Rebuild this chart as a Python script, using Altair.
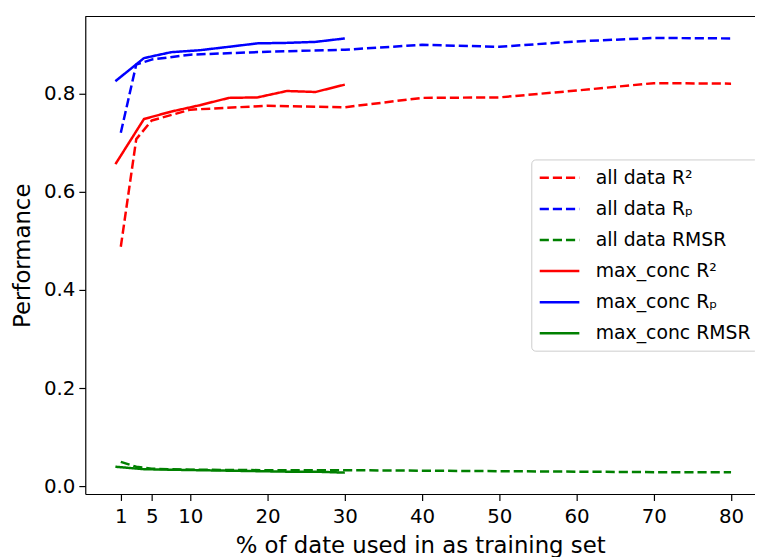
import altair as alt
import pandas as pd

# ---- data ----
x_all = [1, 3, 5, 10, 20, 30, 40, 50, 60, 70, 80]
r2_all = [0.488, 0.707, 0.745, 0.767, 0.775, 0.772, 0.791, 0.792, 0.806, 0.821, 0.820]
rp_all = [0.720, 0.859, 0.869, 0.879, 0.885, 0.889, 0.899, 0.895, 0.906, 0.913, 0.912]
rmsr_all = [0.050, 0.040, 0.036, 0.034, 0.033, 0.033, 0.032, 0.031, 0.030, 0.029, 0.029]

x_max = [0.3, 4.0, 7.5, 11.2, 15.0, 18.7, 22.5, 26.2, 30.0]
r2_max = [0.656, 0.748, 0.763, 0.776, 0.791, 0.792, 0.805, 0.803, 0.818]
rp_max = [0.825, 0.872, 0.884, 0.888, 0.895, 0.902, 0.903, 0.905, 0.912]
rmsr_max = [0.040, 0.035, 0.034, 0.033, 0.032, 0.031, 0.030, 0.030, 0.028]

series_names = ["all data R²", "all data Rₚ", "all data RMSR",
                "max_conc R²", "max_conc Rₚ", "max_conc RMSR"]
series_colors = ["#ff0000", "#0000ff", "#008000", "#ff0000", "#0000ff", "#008000"]
series_dashes = [[9.25, 4], [9.25, 4], [9.25, 4], [1, 0], [1, 0], [1, 0]]

x_ticks = [1, 5, 10, 20, 30, 40, 50, 60, 70, 80]
y_ticks = [0.0, 0.2, 0.4, 0.6, 0.8]

groups = [
    (series_names[0], x_all, r2_all),
    (series_names[1], x_all, rp_all),
    (series_names[2], x_all, rmsr_all),
    (series_names[3], x_max, r2_max),
    (series_names[4], x_max, rp_max),
    (series_names[5], x_max, rmsr_max),
]
rows = []
for name, xs, ys in groups:
    for i, (a, b) in enumerate(zip(xs, ys)):
        rows.append({"x": a, "y": b, "series": name, "ord": i})
df = pd.DataFrame(rows)

W, H = 676, 482

lines = alt.Chart(df).mark_line(strokeWidth=2.5, strokeJoin="round").encode(
    x=alt.X("x:Q",
            scale=alt.Scale(domain=[-3.6, 83.1], nice=False, zero=False),
            axis=alt.Axis(values=x_ticks, title="% of date used in as training set",
                          labelPadding=6, titlePadding=9)),
    y=alt.Y("y:Q",
            scale=alt.Scale(domain=[-0.0155, 0.9567], nice=False, zero=False),
            axis=alt.Axis(values=y_ticks, format=".1f", title="Performance",
                          labelPadding=4, titlePadding=8.5)),
    color=alt.Color("series:N",
                    scale=alt.Scale(domain=series_names, range=series_colors),
                    legend=alt.Legend(title=None)),
    strokeDash=alt.StrokeDash("series:N",
                              scale=alt.Scale(domain=series_names, range=series_dashes),
                              legend=alt.Legend(title=None)),
    order="ord:Q",
)

top_spine = alt.Chart(pd.DataFrame({"k": [0]})).mark_rule(
    color="black", strokeWidth=1.2
).encode(x=alt.value(0), x2=alt.value(W), y=alt.value(0))

chart = alt.layer(lines, top_spine).properties(
    width=W, height=H,
    padding={"left": 78, "top": 6, "right": 0, "bottom": 61},
    autosize=alt.AutoSizeParams(type="none"),
).configure_view(stroke=None).configure_axis(
    grid=False,
    labelFont="DejaVu Sans", labelFontSize=20, labelColor="black",
    titleFont="DejaVu Sans", titleFontSize=23, titleFontWeight="normal",
    titleColor="black",
    domainColor="black", domainWidth=1.2,
    tickColor="black", tickWidth=1.2, tickSize=6.5,
).configure_legend(
    orient="none", legendX=450.2, legendY=144.3,
    symbolType="M-1,0H3", symbolSize=400, symbolStrokeWidth=2.5,
    labelOffset=35, padding=7, rowPadding=9.4,
    strokeColor="#cccccc", fillColor="rgba(255,255,255,0.8)", cornerRadius=4,
    labelFont="DejaVu Sans", labelFontSize=19, labelColor="black", labelLimit=0,
)

chart.save("out.html", embed_options={"renderer": "svg", "actions": False})
